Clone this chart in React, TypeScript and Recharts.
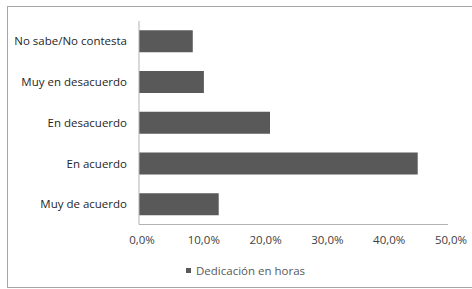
import { Bar, BarChart, XAxis, YAxis } from "recharts";

const categories = ["No sabe/No contesta", "Muy en desacuerdo", "En desacuerdo", "En acuerdo", "Muy de acuerdo"];
const horas = [8.7, 10.5, 21.2, 45.1, 12.9];
const xTicks = [0, 10, 20, 30, 40, 50];
const seriesName = "Dedicación en horas";

const data = categories.map((name, i) => ({ name, horas: horas[i] }));

const fmt = (v: number) => `${v.toFixed(1).replace(".", ",")}%`;

const font = "'Open Sans', sans-serif";

export default function App() {
  return (
    <div style={{ position: "absolute", left: 0, top: 0, width: 472, height: 289, background: "#fff", fontFamily: font }}>
      <div
        style={{
          position: "absolute",
          left: 7,
          top: 6,
          width: 465,
          height: 280,
          borderTop: "1px solid #a6a6a6",
          borderLeft: "1px solid #a6a6a6",
          borderBottom: "1px solid #a6a6a6",
        }}
      />
      <div style={{ position: "absolute", left: 0, top: 0 }}>
        <BarChart
          width={472}
          height={289}
          data={data}
          layout="vertical"
          barCategoryGap="23%"
          margin={{ top: 21, right: 24, left: 0, bottom: 0 }}
        >
          <XAxis
            type="number"
            domain={[0, 50]}
            ticks={xTicks}
            tickFormatter={fmt}
            axisLine={{ stroke: "#b3b3b3" }}
            tickLine={false}
            tickSize={0}
            tickMargin={11}
            height={64.5}
            tick={{ fill: "#404040", fontSize: 11.5, fontFamily: font, dx: 3 }}
          />
          <YAxis
            type="category"
            dataKey="name"
            width={139}
            axisLine={{ stroke: "#b3b3b3" }}
            tickLine={false}
            tickSize={0}
            tickMargin={12}
            tick={{ fill: "#262626", fontSize: 11.5, fontFamily: font }}
          />
          <Bar dataKey="horas" name={seriesName} fill="#595959" isAnimationActive={false} />
        </BarChart>
      </div>
      <div
        style={{
          position: "absolute",
          left: 186,
          top: 261,
          height: 18,
          display: "flex",
          alignItems: "center",
          fontSize: 11.5,
          color: "#595959",
          whiteSpace: "nowrap",
        }}
      >
        <span style={{ display: "inline-block", width: 5, height: 5, background: "#595959", marginRight: 5 }} />
        {seriesName}
      </div>
    </div>
  );
}
